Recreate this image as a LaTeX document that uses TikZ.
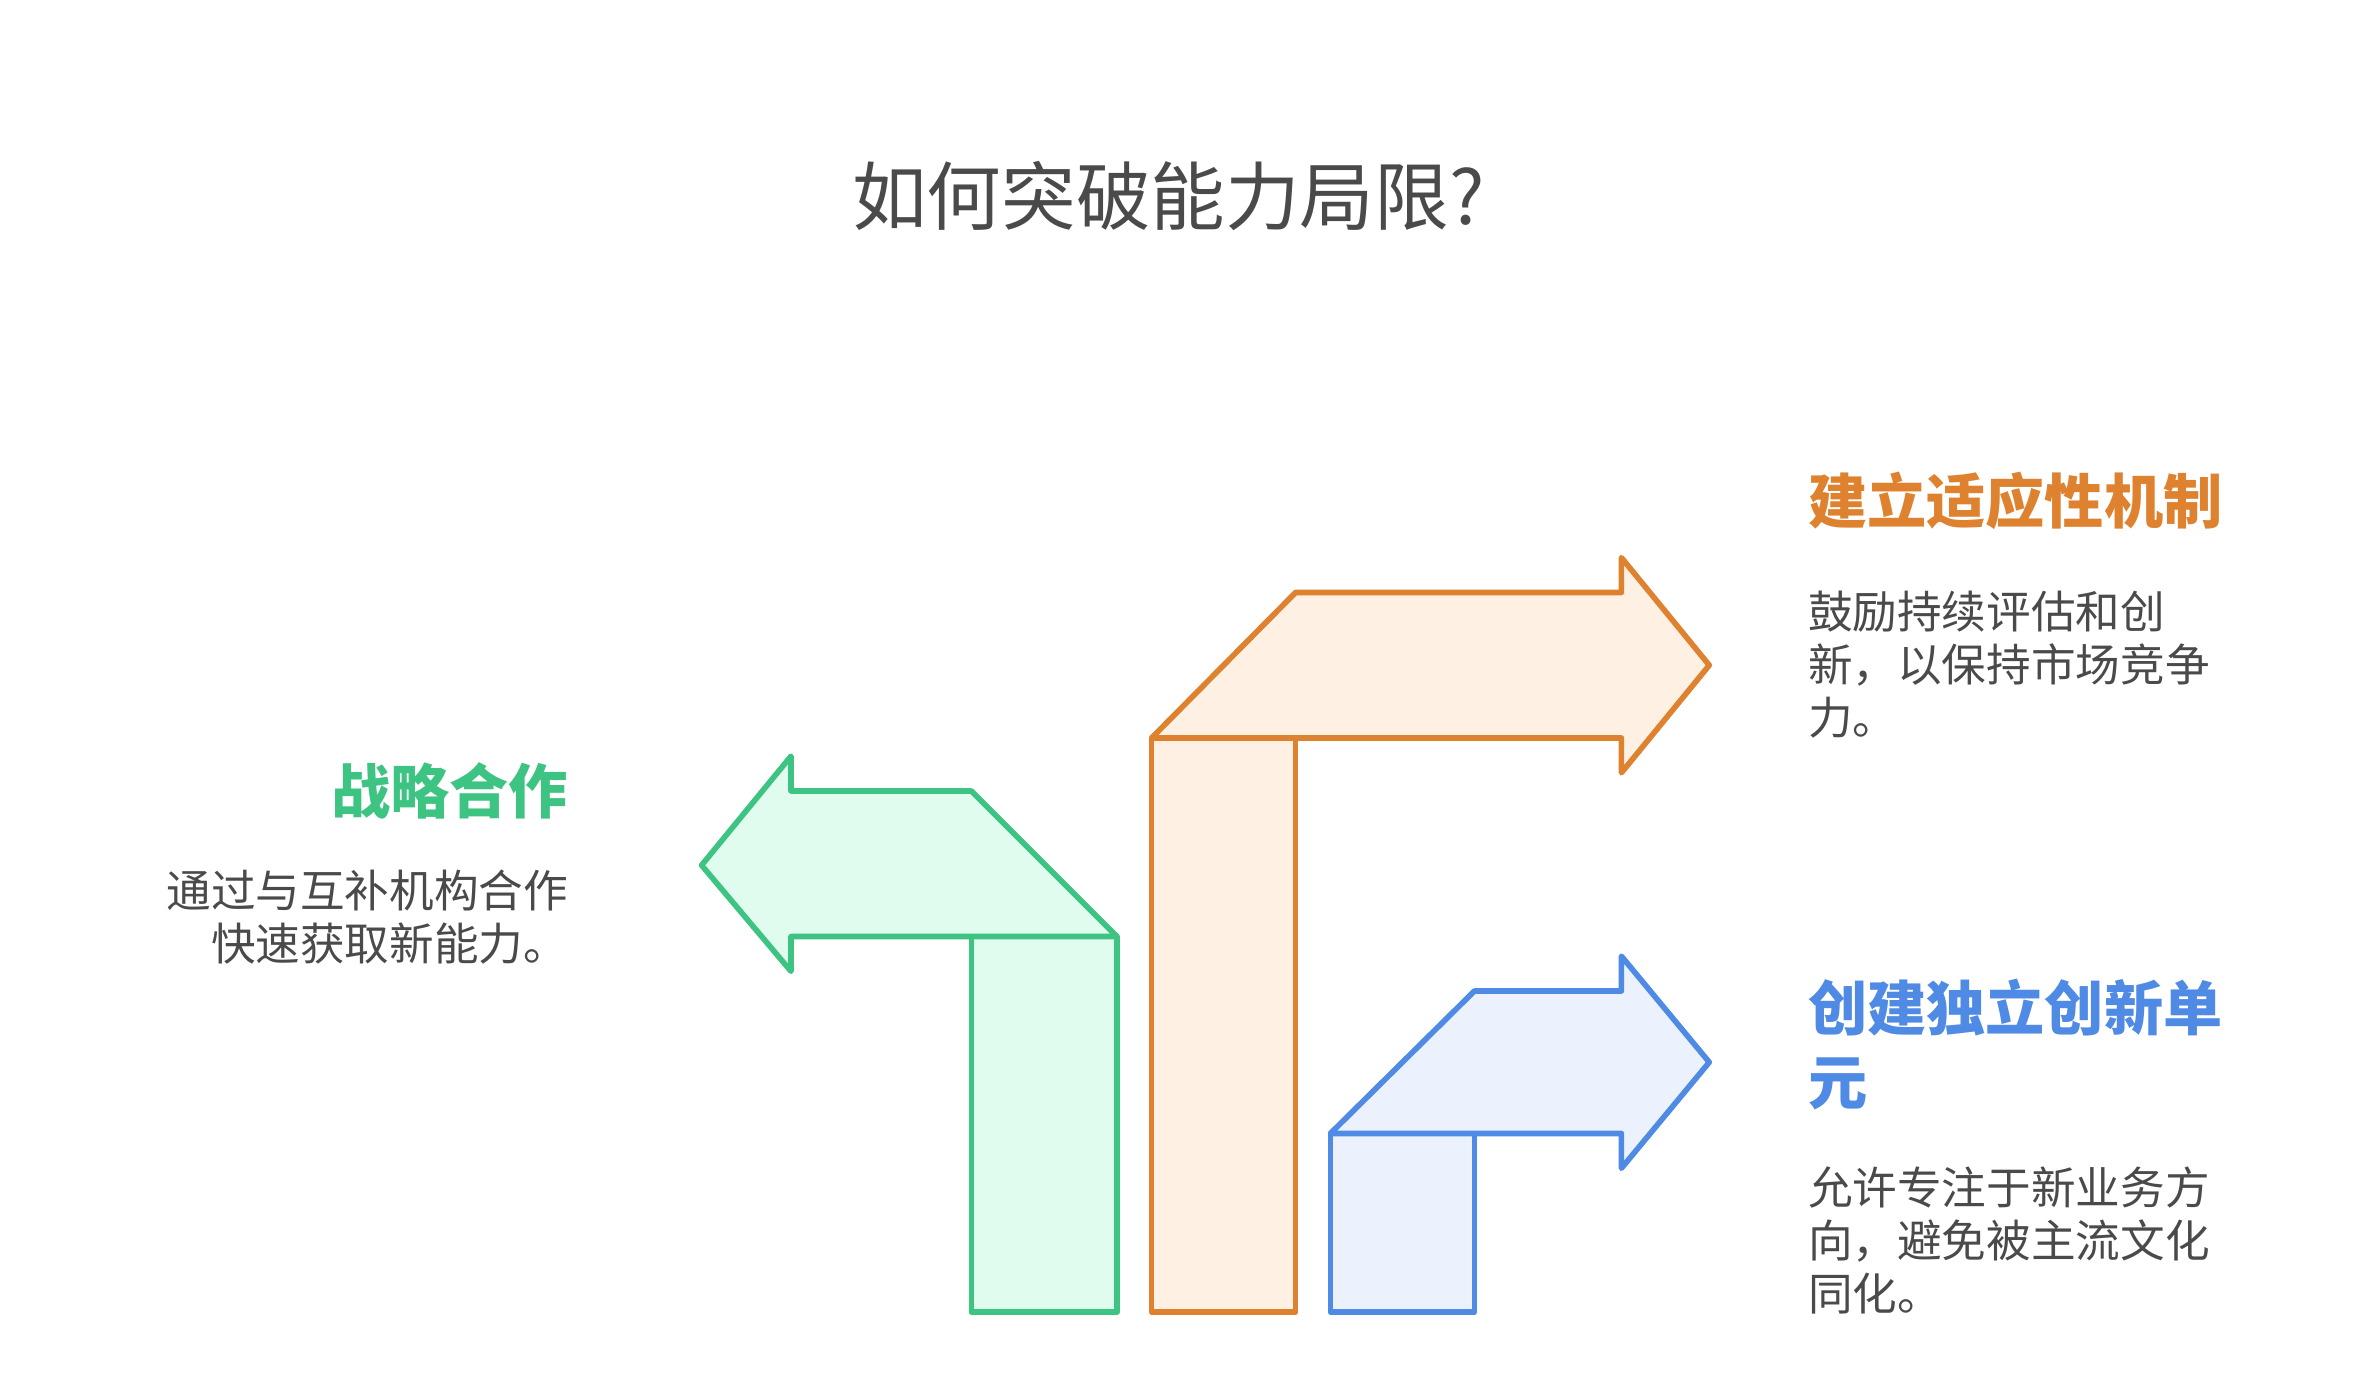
\documentclass[tikz,border=0pt]{standalone}
\usepackage{fontspec}
\usetikzlibrary{positioning}
\newfontfamily\cjk{Noto Sans CJK SC}

\definecolor{txtgray}{HTML}{4A4A4A}
\definecolor{grnline}{HTML}{3DC482}
\definecolor{grnfill}{HTML}{E0FCEE}
\definecolor{orgline}{HTML}{DE8230}
\definecolor{orgfill}{HTML}{FEF1E4}
\definecolor{bluline}{HTML}{4F8AE5}
\definecolor{blufill}{HTML}{EBF2FE}

\tikzset{
  bentarrow/.style={draw=#1line, fill=#1fill, line width=2.8pt, line join=round},
  headtxt/.style={inner sep=0pt, font=\cjk\bfseries\fontsize{29.6pt}{37pt}\selectfont},
  bodytxt/.style={inner sep=0pt, text=txtgray, font=\cjk\fontsize{22.3pt}{26.5pt}\selectfont},
}

\begin{document}
\begin{tikzpicture}[x=0.7576pt, y=-0.7576pt]
  \useasboundingbox (0,0) rectangle (1568,915);

  % title
  \node[inner sep=0pt, anchor=north, text=txtgray, font=\cjk\fontsize{37.3pt}{44pt}\selectfont] (title) at (771,106) {如何突破能力局限?};

  % green arrow, turning left
  \draw[bentarrow=grn] (641,618) rectangle (737,866);
  \draw[bentarrow=grn] (463,571) -- (522,499) -- (522,522) -- (641,522) -- (737,618) -- (522,618) -- (522,641) -- cycle;

  % orange and blue arrows, turning right
  \foreach \c/\xa/\xb/\ya/\yb in {org/760/855/391/487, blu/878/973/654/748} {
    \draw[bentarrow=\c] (\xa,\yb) rectangle (\xb,866);
    \draw[bentarrow=\c] (\xa,\yb) -- (\xb,\ya) -- (1070,\ya) -- (1070,\ya-23) -- (1128,{(\ya+\yb)/2}) -- (1070,\yb+23) -- (1070,\yb) -- cycle;
  }

  % labels
  \node[headtxt, text=grnline, anchor=north east] (partnerhead) at (375,503) {战略合作};
  \node[bodytxt, anchor=north east, align=right] (partnerbody) at (375,574) {通过与互补机构合作\\快速获取新能力。};

  \node[headtxt, text=orgline, anchor=north west] (adapthead) at (1193,311) {建立适应性机制};
  \node[bodytxt, anchor=north west, align=left] (adaptbody) at (1193,390) {鼓励持续评估和创\\新，以保持市场竞争\\力。};

  \node[headtxt, text=bluline, anchor=north west, align=left] (unithead) at (1193,646) {创建独立创新单\\元};
  \node[bodytxt, anchor=north west, align=left] (unitbody) at (1193,770) {允许专注于新业务方\\向，避免被主流文化\\同化。};
\end{tikzpicture}
\end{document}
